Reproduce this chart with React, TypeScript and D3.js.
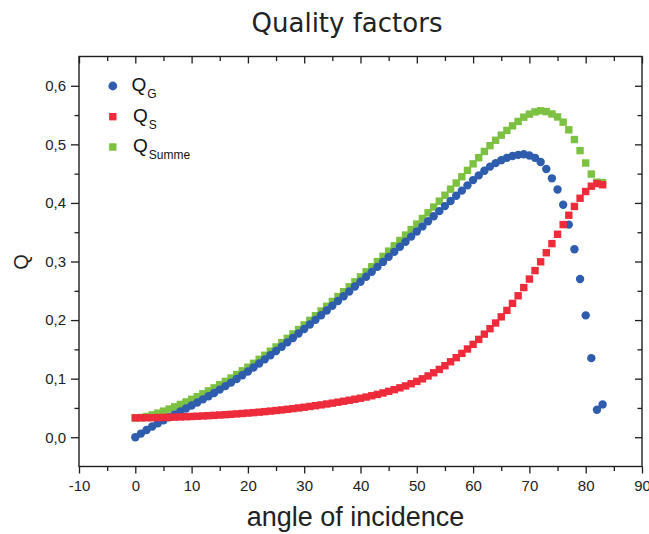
import React, { useEffect, useRef } from "react";
import * as d3 from "d3";

// Angle of incidence in degrees
const angleDeg = [
  0, 1, 2, 3, 4, 5, 6, 7, 8, 9, 10, 11, 12, 13, 14, 15, 16, 17, 18, 19,
  20, 21, 22, 23, 24, 25, 26, 27, 28, 29, 30, 31, 32, 33, 34, 35, 36, 37, 38, 39,
  40, 41, 42, 43, 44, 45, 46, 47, 48, 49, 50, 51, 52, 53, 54, 55, 56, 57, 58, 59,
  60, 61, 62, 63, 64, 65, 66, 67, 68, 69, 70, 71, 72, 73, 74, 75, 76, 77, 78, 79,
  80, 81, 82, 83,
];

// Q_G
const qG = [
  0.0, 0.0062, 0.0123, 0.0182, 0.0238, 0.029, 0.034, 0.039, 0.044, 0.049,
  0.0541, 0.0593, 0.0646, 0.07, 0.0756, 0.0813, 0.0872, 0.0932, 0.0994, 0.1058,
  0.1123, 0.119, 0.1259, 0.1329, 0.14, 0.1472, 0.1545, 0.1619, 0.1694, 0.177,
  0.1847, 0.1925, 0.2004, 0.2083, 0.2163, 0.2244, 0.2325, 0.2407, 0.2489, 0.2572,
  0.2655, 0.2739, 0.2823, 0.2908, 0.2993, 0.3079, 0.3165, 0.3251, 0.3338, 0.3425,
  0.3512, 0.3599, 0.3686, 0.3773, 0.386, 0.3946, 0.4034, 0.4122, 0.421, 0.43,
  0.439, 0.447, 0.455, 0.462, 0.468, 0.473, 0.477, 0.48, 0.482, 0.483,
  0.481, 0.477, 0.47, 0.458, 0.442, 0.423, 0.397, 0.363, 0.321, 0.27,
  0.208, 0.135, 0.047, 0.056,
];

// Q_S
const qS = [
  0.033, 0.0331, 0.0332, 0.0333, 0.0335, 0.0337, 0.034, 0.0343, 0.0346, 0.035,
  0.0354, 0.0358, 0.0363, 0.0368, 0.0373, 0.0379, 0.0385, 0.0391, 0.0398, 0.0405,
  0.0412, 0.042, 0.0428, 0.0437, 0.0446, 0.0456, 0.0466, 0.0477, 0.0488, 0.05,
  0.0512, 0.0525, 0.0538, 0.0552, 0.0567, 0.0582, 0.0598, 0.0614, 0.0631, 0.0648,
  0.0666, 0.0686, 0.0708, 0.0731, 0.0756, 0.0783, 0.0812, 0.0843, 0.0876, 0.0913,
  0.0953, 0.0997, 0.1046, 0.11, 0.1158, 0.1221, 0.1288, 0.1358, 0.1431, 0.1506,
  0.1585, 0.167, 0.176, 0.1853, 0.195, 0.2055, 0.2165, 0.2285, 0.2415, 0.2555,
  0.27, 0.2845, 0.2995, 0.315, 0.3305, 0.3465, 0.363, 0.379, 0.394, 0.408,
  0.4195, 0.4285, 0.433, 0.431,
];

// Q_Summe
const qSumme = [
  0.033, 0.0337, 0.0354, 0.038, 0.0411, 0.0445, 0.0481, 0.0519, 0.056, 0.0602,
  0.0647, 0.0693, 0.0741, 0.0791, 0.0843, 0.0897, 0.0953, 0.1011, 0.1071, 0.1133,
  0.1196, 0.1262, 0.133, 0.1399, 0.1469, 0.1541, 0.1614, 0.1688, 0.1763, 0.1839,
  0.1917, 0.1995, 0.2075, 0.2155, 0.2236, 0.2318, 0.2401, 0.2484, 0.2568, 0.2652,
  0.2737, 0.2824, 0.291, 0.2999, 0.3087, 0.3177, 0.3268, 0.3359, 0.3451, 0.3545,
  0.3639, 0.3735, 0.3832, 0.393, 0.403, 0.4131, 0.4235, 0.434, 0.4447, 0.4556,
  0.4667, 0.4772, 0.4879, 0.4978, 0.507, 0.5157, 0.5238, 0.5316, 0.5391, 0.5464,
  0.5516, 0.5554, 0.5573, 0.5559, 0.5519, 0.5468, 0.5379, 0.5248, 0.5082, 0.4893,
  0.4682, 0.4493, 0.4355, 0.4346,
];

const xMajorTicks = [-10, 0, 10, 20, 30, 40, 50, 60, 70, 80, 90];
const xMinorTicks = [-5, 5, 15, 25, 35, 45, 55, 65, 75, 85];
const yMajorTicks = [0, 0.1, 0.2, 0.3, 0.4, 0.5, 0.6];
const yMinorTicks = [0.05, 0.15, 0.25, 0.35, 0.45, 0.55];

const BLUE = "#2f5dad";
const RED = "#ee2b3b";
const GREEN = "#7cc142";
const INK = "#1e1e1e";
const SANS = "'Liberation Sans', Arial, sans-serif";

export default function App() {
  const ref = useRef<SVGSVGElement>(null);

  useEffect(() => {
    const svg = d3.select(ref.current);
    svg.selectAll("*").remove();

    const left = 79;
    const right = 642;
    const top = 56.5;
    const bottom = 466.5;

    const x = d3.scaleLinear().domain([-10, 90]).range([left, right]);
    const y = d3.scaleLinear().domain([-0.05, 0.65]).range([bottom, top]);

    svg.append("rect").attr("width", 649).attr("height", 534).attr("fill", "#fff");

    // Title
    svg
      .append("text")
      .attr("x", 347)
      .attr("y", 32)
      .attr("text-anchor", "middle")
      .attr("font-family", "'DejaVu Sans', Verdana, sans-serif")
      .attr("font-size", 26)
      .attr("fill", "#222")
      .text("Quality factors");

    const styleAxis = (g: d3.Selection<SVGGElement, unknown, null, undefined>) => {
      g.select(".domain").remove();
      g.selectAll(".tick line").attr("stroke", INK).attr("stroke-width", 1.3);
      g.selectAll(".tick text")
        .attr("font-family", SANS)
        .attr("font-size", 15)
        .attr("fill", "#222");
    };

    const fmtY = (d: d3.NumberValue) => d3.format(".1f")(+d).replace(".", ",");

    // Bottom axis
    svg
      .append("g")
      .attr("transform", `translate(0,${bottom})`)
      .call(
        d3.axisBottom(x).tickValues(xMajorTicks).tickSizeInner(7).tickSizeOuter(0).tickPadding(7).tickFormat((d) => String(d))
      )
      .call(styleAxis);
    svg
      .append("g")
      .attr("transform", `translate(0,${bottom})`)
      .call(d3.axisBottom(x).tickValues(xMinorTicks).tickSizeInner(4.5).tickSizeOuter(0).tickFormat(() => ""))
      .call(styleAxis);

    // Top axis (inward ticks)
    svg
      .append("g")
      .attr("transform", `translate(0,${top})`)
      .call(d3.axisTop(x).tickValues(xMajorTicks).tickSizeInner(-7).tickSizeOuter(0).tickFormat(() => ""))
      .call(styleAxis);
    svg
      .append("g")
      .attr("transform", `translate(0,${top})`)
      .call(d3.axisTop(x).tickValues(xMinorTicks).tickSizeInner(-4.5).tickSizeOuter(0).tickFormat(() => ""))
      .call(styleAxis);

    // Left axis
    svg
      .append("g")
      .attr("transform", `translate(${left},0)`)
      .call(d3.axisLeft(y).tickValues(yMajorTicks).tickSizeInner(8).tickSizeOuter(0).tickPadding(5).tickFormat(fmtY))
      .call(styleAxis);
    svg
      .append("g")
      .attr("transform", `translate(${left},0)`)
      .call(d3.axisLeft(y).tickValues(yMinorTicks).tickSizeInner(4.5).tickSizeOuter(0).tickFormat(() => ""))
      .call(styleAxis);

    // Right axis (inward ticks)
    svg
      .append("g")
      .attr("transform", `translate(${right},0)`)
      .call(d3.axisRight(y).tickValues(yMajorTicks).tickSizeInner(-7).tickSizeOuter(0).tickFormat(() => ""))
      .call(styleAxis);
    svg
      .append("g")
      .attr("transform", `translate(${right},0)`)
      .call(d3.axisRight(y).tickValues(yMinorTicks).tickSizeInner(-4.5).tickSizeOuter(0).tickFormat(() => ""))
      .call(styleAxis);

    // Frame
    svg
      .append("rect")
      .attr("x", left)
      .attr("y", top)
      .attr("width", right - left)
      .attr("height", bottom - top)
      .attr("fill", "none")
      .attr("stroke", INK)
      .attr("stroke-width", 1.4);

    // Axis titles
    svg
      .append("text")
      .attr("x", 355.5)
      .attr("y", 526)
      .attr("text-anchor", "middle")
      .attr("font-family", SANS)
      .attr("font-size", 27)
      .attr("fill", "#222")
      .text("angle of incidence");

    svg
      .append("text")
      .attr("transform", "translate(28,262) rotate(-90)")
      .attr("text-anchor", "middle")
      .attr("font-family", SANS)
      .attr("font-size", 20)
      .attr("fill", "#222")
      .text("Q");

    const sq = 7.4;
    const r = 4.2;
    const marks = svg.append("g");

    // Q_Summe squares
    marks
      .append("g")
      .selectAll("rect")
      .data(angleDeg)
      .join("rect")
      .attr("x", (d) => x(d) - sq / 2)
      .attr("y", (_d, i) => y(qSumme[i]) - sq / 2)
      .attr("width", sq)
      .attr("height", sq)
      .attr("fill", GREEN);

    // Q_G circles
    marks
      .append("g")
      .selectAll("circle")
      .data(angleDeg)
      .join("circle")
      .attr("cx", (d) => x(d))
      .attr("cy", (_d, i) => y(qG[i]))
      .attr("r", r)
      .attr("fill", BLUE);

    // Q_S squares
    marks
      .append("g")
      .selectAll("rect")
      .data(angleDeg)
      .join("rect")
      .attr("x", (d) => x(d) - sq / 2)
      .attr("y", (_d, i) => y(qS[i]) - sq / 2)
      .attr("width", sq)
      .attr("height", sq)
      .attr("fill", RED);

    // Legend
    const legend = svg.append("g");
    const entries = [
      { sub: "G", color: BLUE, shape: "circle", my: 86, qx: 131.5, base: 91 },
      { sub: "S", color: RED, shape: "square", my: 116.7, qx: 133, base: 122 },
      { sub: "Summe", color: GREEN, shape: "square", my: 147, qx: 133, base: 152 },
    ];
    entries.forEach((e) => {
      if (e.shape === "circle") {
        legend.append("circle").attr("cx", 112.8).attr("cy", e.my).attr("r", 4.4).attr("fill", e.color);
      } else {
        legend
          .append("rect")
          .attr("x", 112.8 - sq / 2)
          .attr("y", e.my - sq / 2)
          .attr("width", sq)
          .attr("height", sq)
          .attr("fill", e.color);
      }
      const t = legend
        .append("text")
        .attr("x", e.qx)
        .attr("y", e.base)
        .attr("font-family", SANS)
        .attr("font-size", 19)
        .attr("fill", "#111");
      t.append("tspan").text("Q");
      t.append("tspan").attr("font-size", 12).attr("dy", 6.5).attr("dx", 1).text(e.sub);
    });
  }, []);

  return (
    <svg
      ref={ref}
      width={649}
      height={534}
      style={{ position: "absolute", left: 0, top: 0, display: "block" }}
    />
  );
}
